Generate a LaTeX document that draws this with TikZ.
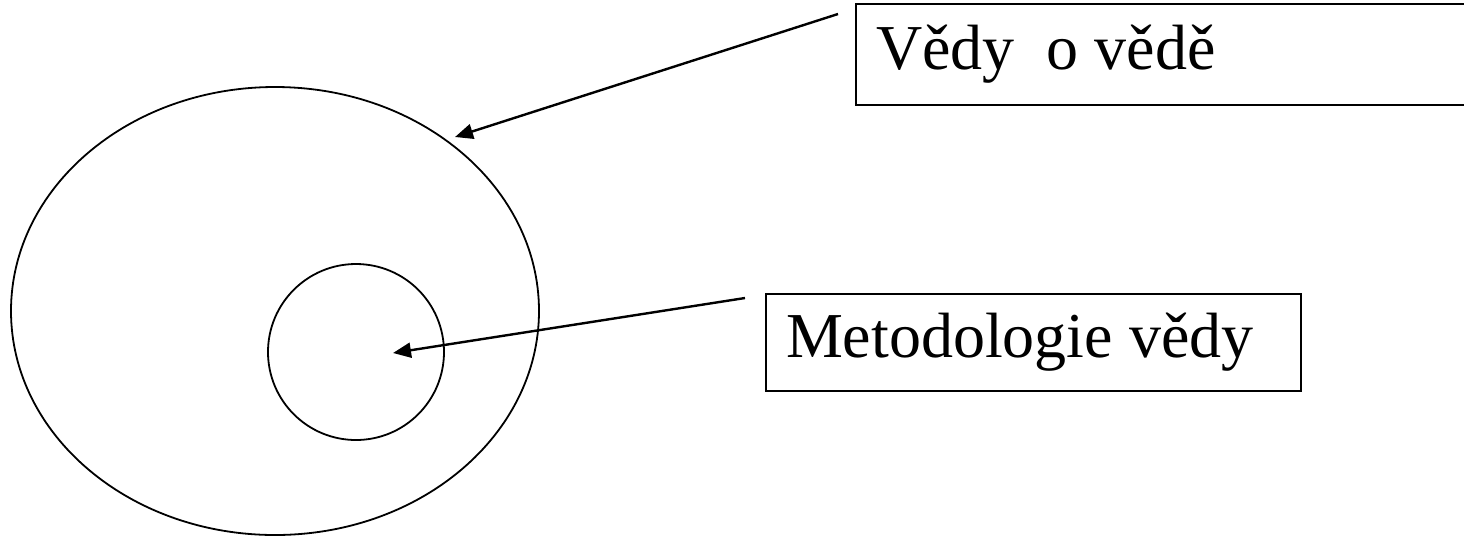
\documentclass[tikz,border=0pt]{standalone}
\usepackage{fontspec}
\setmainfont{Liberation Serif}
\usetikzlibrary{shapes.geometric,arrows.meta}
\tikzset{
  labelbox/.style={draw, line width=1pt, inner xsep=10pt, align=flush left,
    anchor=north west, font=\fontsize{32}{38}\selectfont},
  pointer/.style={line width=1.2pt, -{Triangle[length=9pt,width=7.5pt]}}
}
\begin{document}
\begin{tikzpicture}[x=0.5pt,y=-0.5pt]
\useasboundingbox (0,0) rectangle (1464,538);

\node[draw, ellipse, line width=0.9pt, minimum width=264pt, minimum height=224pt] (outer) at (275,311) {};
\node[draw, circle, line width=0.9pt, minimum size=88pt] (inner) at (356,352) {};

\node[labelbox, text width=290pt, minimum height=50.5pt] (science) at (855,3) {Vědy\ \ o vědě};
\node[labelbox, text width=247.5pt, minimum height=48.5pt] (method) at (765,293) {Metodologie vědy};

\coordinate (sstart) at (838,14);
\coordinate (stip) at (455,137);
\coordinate (mstart) at (745,298);
\coordinate (mtip) at (393,353);

\draw[pointer] (sstart) -- (stip);
\draw[pointer] (mstart) -- (mtip);
\end{tikzpicture}
\end{document}
